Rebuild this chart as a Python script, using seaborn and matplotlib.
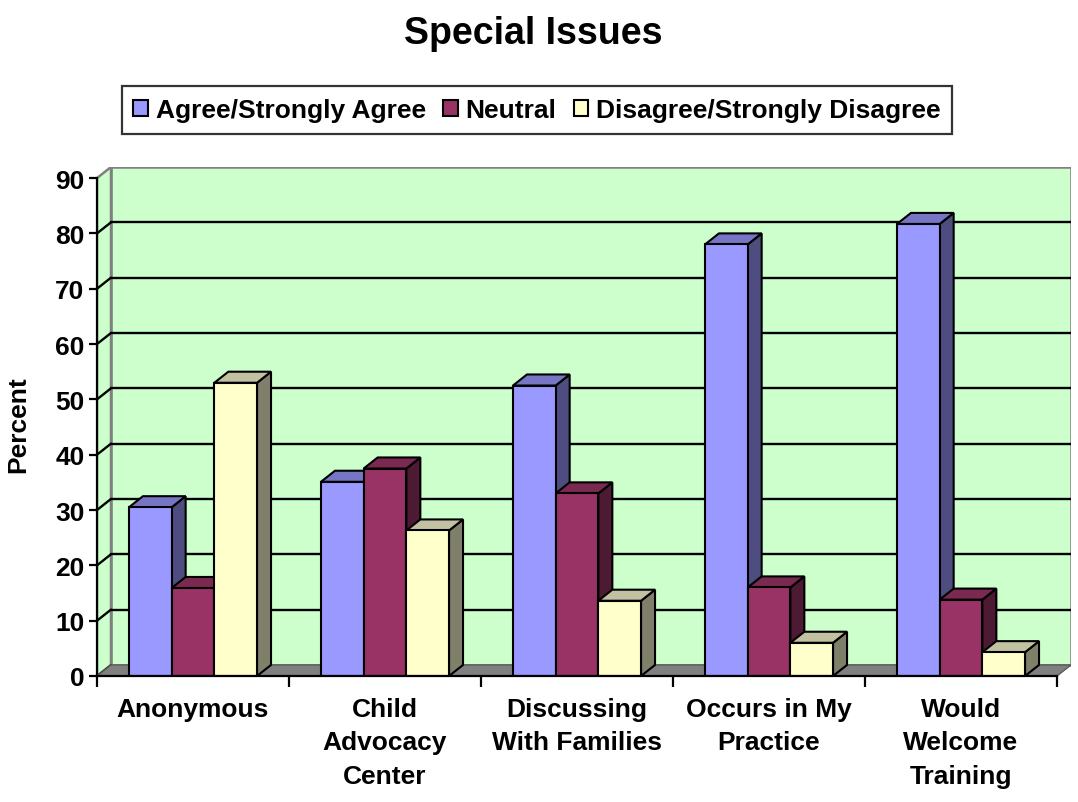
import numpy as np
import pandas as pd
import matplotlib
matplotlib.use("Agg")
import matplotlib.pyplot as plt
import matplotlib.patches as mpatches
from matplotlib.lines import Line2D
from matplotlib.ticker import FixedLocator
import seaborn as sns

# ---- data ----
categories = ["Anonymous", "Child\nAdvocacy\nCenter", "Discussing\nWith Families",
              "Occurs in My\nPractice", "Would\nWelcome\nTraining"]
responses = ["Agree/Strongly Agree", "Neutral", "Disagree/Strongly Disagree"]
agree = [30.5, 35.1, 52.5, 78.0, 81.7]
neutral = [15.9, 37.5, 33.0, 16.0, 13.8]
disagree = [53.0, 26.3, 13.6, 6.0, 4.3]
y_ticks = [0, 10, 20, 30, 40, 50, 60, 70, 80, 90]

# ---- styling ----
front_colors = ["#9999FF", "#993366", "#FFFFCC"]
side_colors = ["#4D4D80", "#4D1A33", "#80806A"]
top_colors = ["#7676C4", "#7A2950", "#C2C2A2"]
wall_color = "#CCFFCC"
floor_color = "#808080"
edge_grey = "#808080"

sns.set_theme(style="white")
plt.rcParams["font.family"] = ["Liberation Sans", "DejaVu Sans"]
plt.rcParams["font.weight"] = "bold"
for key in ["text.color", "axes.labelcolor", "xtick.color", "ytick.color"]:
    plt.rcParams[key] = "black"

FS = 19

df = pd.DataFrame({
    "category": np.repeat(categories, 3),
    "response": responses * len(categories),
    "percent": np.ravel(np.column_stack([agree, neutral, disagree])),
})

W, H = 1078, 803
fig = plt.figure(figsize=(W / 100, H / 100), dpi=100)
fig.patch.set_facecolor("white")
ax = fig.add_axes([97 / W, 1 - 677 / H, 974 / W, 509 / H])
ax.set_facecolor("none")

sns.barplot(data=df, x="category", y="percent", hue="response",
            order=categories, hue_order=responses, palette=front_colors,
            width=0.667, edgecolor="black", linewidth=1.5, saturation=1,
            legend=False, ax=ax)

# depth offset of the oblique projection (data units)
dx, dy = 0.0729, 2.0
x0, x1 = -0.5, len(categories) - 0.5
ymax = y_ticks[-1]
ax.set_xlim(x0, x1 + dx)
ax.set_ylim(0, ymax + dy)

# back wall
ax.add_patch(mpatches.Rectangle((x0 + dx, dy), x1 - x0, ymax, facecolor=wall_color,
                                edgecolor=edge_grey, linewidth=1.8, zorder=0.5))
# left side wall
ax.add_patch(mpatches.Polygon([(x0, 0), (x0 + dx, dy), (x0 + dx, ymax + dy), (x0, ymax)],
                              closed=True, facecolor=wall_color, edgecolor=edge_grey,
                              linewidth=1.8, zorder=0.6))
# gridlines on back wall plus their continuation across the side wall
for v in y_ticks[1:-1]:
    ax.add_line(Line2D([x0 + dx, x1 + dx], [v + dy, v + dy], color="black", lw=1.7, zorder=0.8))
    ax.add_line(Line2D([x0, x0 + dx], [v, v + dy], color="black", lw=1.7, zorder=0.8))
ax.add_line(Line2D([x0, x0 + dx], [0, dy], color="black", lw=1.2, zorder=0.8))
# floor
ax.add_patch(mpatches.Polygon([(x0, 0), (x1, 0), (x1 + dx, dy), (x0 + dx, dy)],
                              closed=True, facecolor=floor_color, edgecolor="#5a5a5a",
                              linewidth=1.0, zorder=0.9))

# 3D side and top faces for every bar, drawn left to right
for hi, cont in enumerate(ax.containers):
    for rect in cont.patches:
        x = rect.get_x()
        w = rect.get_width()
        h = rect.get_height()
        base = 2 + hi * 0.3
        side = mpatches.Polygon([(x + w, 0), (x + w + dx, dy), (x + w + dx, h + dy), (x + w, h)],
                                closed=True, facecolor=side_colors[hi], edgecolor="black",
                                linewidth=1.5, zorder=base)
        top = mpatches.Polygon([(x, h), (x + dx, h + dy), (x + w + dx, h + dy), (x + w, h)],
                               closed=True, facecolor=top_colors[hi], edgecolor="black",
                               linewidth=1.5, zorder=base + 0.05)
        ax.add_patch(side)
        ax.add_patch(top)
        rect.set_zorder(base + 0.1)

# axes / ticks
for s in ["top", "right"]:
    ax.spines[s].set_visible(False)
ax.spines["left"].set_bounds(0, ymax)
ax.spines["bottom"].set_bounds(x0, x1)
for s in ["left", "bottom"]:
    ax.spines[s].set_color("black")
    ax.spines[s].set_linewidth(1.6)
    ax.spines[s].set_zorder(5)

ax.set_yticks(y_ticks)
ax.set_yticklabels([str(v) for v in y_ticks], fontsize=FS, fontweight="bold")
ax.tick_params(axis="y", which="major", direction="out", length=6, width=1.6,
               color="black", labelcolor="black", pad=3, left=True)

ax.set_xticks(range(len(categories)))
ax.set_xticklabels(categories, fontsize=FS, fontweight="bold", linespacing=1.5,
                   multialignment="center")
ax.xaxis.set_minor_locator(FixedLocator(np.arange(x0, x1 + 0.01, 1.0)))
ax.tick_params(axis="x", which="major", length=0, pad=15, labelcolor="black")
ax.tick_params(axis="x", which="minor", direction="out", length=8, width=1.6,
               color="black", bottom=True)
ax.set_xlabel("")
ax.set_ylabel("Percent", fontsize=FS, fontweight="bold", color="black",
              va="center", ha="center")
ax.yaxis.set_label_coords(-0.081, 0.495)
ax.grid(False)

# legend
handles = [mpatches.Patch(facecolor=c, edgecolor="black", linewidth=1.5) for c in front_colors]
leg = fig.legend(handles, responses, loc="center", bbox_to_anchor=(537 / W, 1 - 111 / H),
                 ncol=3, frameon=True, fancybox=False,
                 prop={"weight": "bold", "size": FS},
                 handlelength=0.55, handleheight=0.55, handletextpad=0.3,
                 columnspacing=0.65, borderpad=0.45, borderaxespad=0)
leg.get_frame().set_edgecolor("black")
leg.get_frame().set_linewidth(1.6)

fig.text(533 / W, 1 - 34 / H, "Special Issues", ha="center", va="center",
         fontsize=27, fontweight="bold", color="black")

fig.savefig("out.png", dpi=100, facecolor="white")
